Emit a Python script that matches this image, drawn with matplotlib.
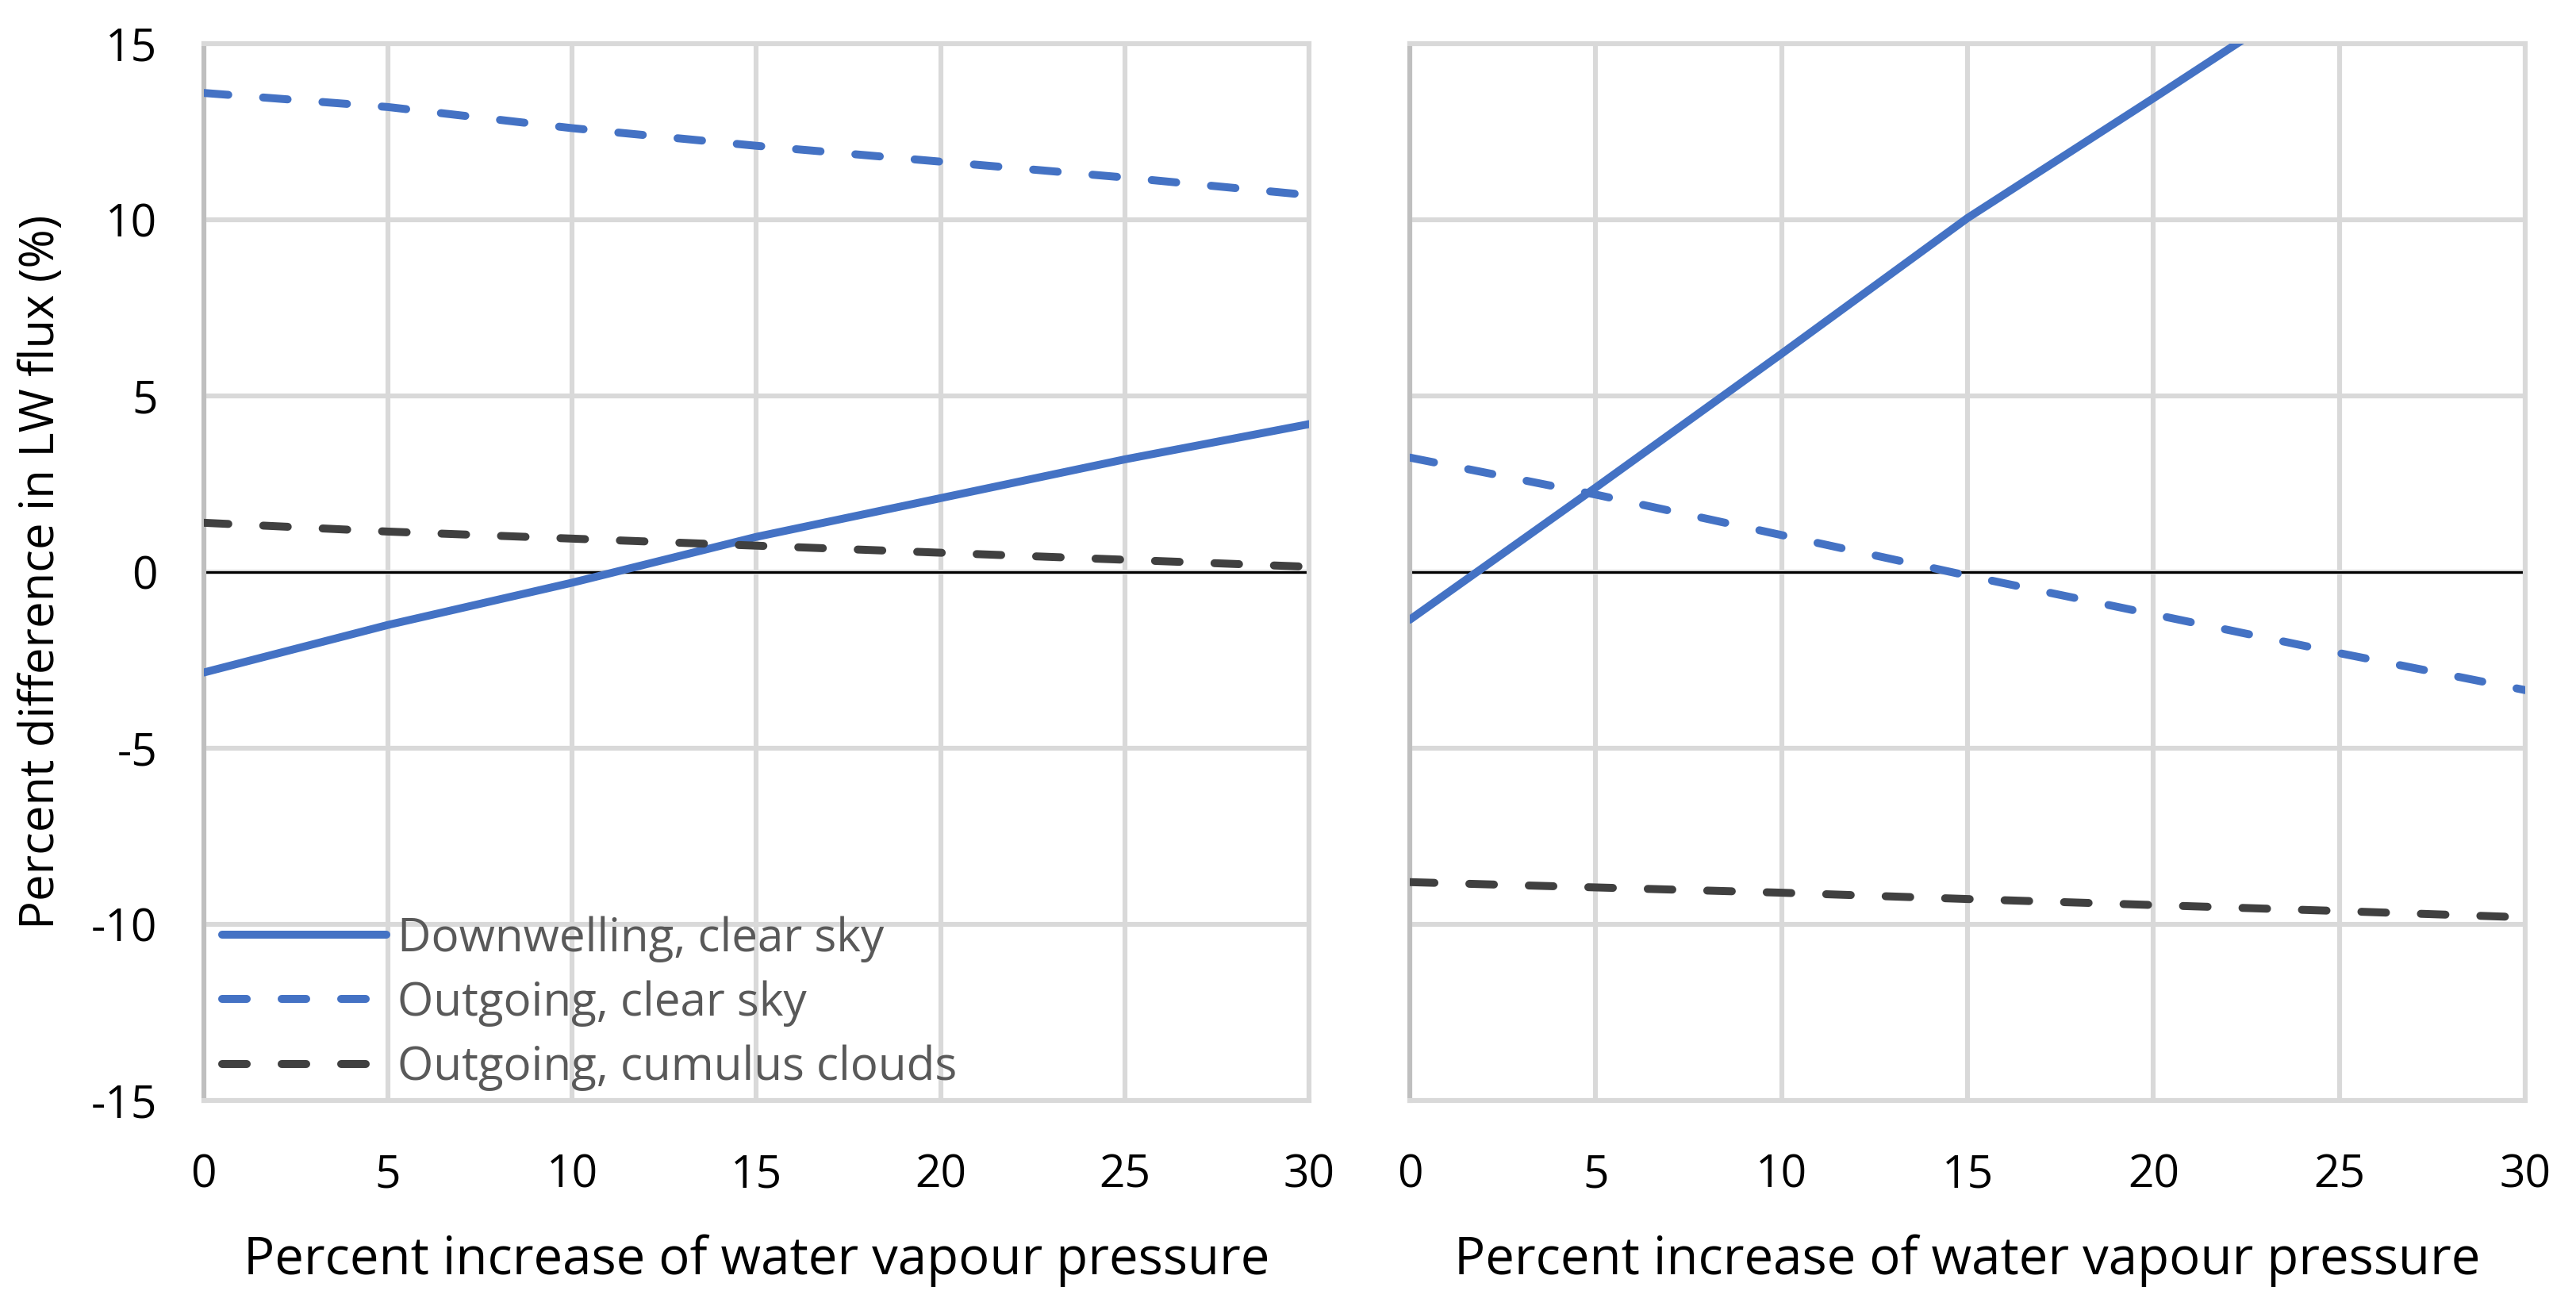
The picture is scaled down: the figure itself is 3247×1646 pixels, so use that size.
import matplotlib
matplotlib.use("Agg")
import matplotlib.pyplot as plt

# x: percent increase of water vapour pressure
x_vals = [0, 5, 10, 15, 20, 25, 30]

# left panel
left_down_clear = [-2.85, -1.5, -0.3, 1.0, 2.1, 3.2, 4.2]
left_out_clear = [13.6, 13.2, 12.6, 12.1, 11.65, 11.2, 10.7]
left_out_cumulus = [1.4, 1.15, 0.95, 0.75, 0.55, 0.35, 0.15]

# right panel
right_down_clear = [-1.35, 2.4, 6.2, 10.05, 13.45, 16.9, 20.3]
right_out_clear = [3.25, 2.2, 1.05, -0.1, -1.2, -2.3, -3.35]
right_out_cumulus = [-8.8, -8.95, -9.1, -9.28, -9.45, -9.62, -9.8]

labels = ["Downwelling, clear sky", "Outgoing, clear sky", "Outgoing, cumulus clouds"]
x_ticks = [0, 5, 10, 15, 20, 25, 30]
y_ticks = [-15, -10, -5, 0, 5, 10, 15]
xlabel = "Percent increase of water vapour pressure"
ylabel = "Percent difference in LW flux (%)"

BLUE = "#4472C4"
DARK = "#404040"
GRID = "#d9d9d9"
LW = 3.6
DASH = (3.1, 4.4)

plt.rcParams["font.family"] = ["Open Sans", "DejaVu Sans"]
plt.rcParams["axes.unicode_minus"] = False

DPI = 200
fig = plt.figure(figsize=(3247 / DPI, 1646 / DPI), dpi=DPI)
ax_l = fig.add_axes([0.0791, 0.1573, 0.4291, 0.8093])
ax_r = fig.add_axes([0.5473, 0.1573, 0.4330, 0.8093])


def style(ax, show_y):
    ax.set_xlim(0, 30)
    ax.set_ylim(-15, 15)
    ax.set_xticks(x_ticks)
    ax.set_yticks(y_ticks)
    ax.grid(True, color=GRID, lw=2.2, zorder=0)
    ax.set_axisbelow(True)
    for side in ("top", "right", "bottom"):
        ax.spines[side].set_color(GRID)
        ax.spines[side].set_linewidth(2.2)
    ax.spines["left"].set_color("#bfbfbf")
    ax.spines["left"].set_linewidth(2.2)
    ax.tick_params(axis="x", length=0, pad=24, labelsize=20.5, labelcolor="black")
    ax.tick_params(axis="y", length=0, pad=21, labelsize=20.5, labelcolor="black")
    if not show_y:
        ax.tick_params(axis="y", labelleft=False)
    ax.axhline(0, color="black", lw=1.1, zorder=1)
    ax.set_xlabel(xlabel, fontsize=23.5, labelpad=16)


def draw(ax, down, out, cum):
    l1, = ax.plot(x_vals, down, color=BLUE, lw=LW, solid_capstyle="round", zorder=3)
    l2, = ax.plot(x_vals, out, color=BLUE, lw=LW, dashes=DASH,
                  dash_capstyle="round", zorder=3)
    l3, = ax.plot(x_vals, cum, color=DARK, lw=LW, dashes=DASH,
                  dash_capstyle="round", zorder=3)
    return [l1, l2, l3]


style(ax_l, True)
style(ax_r, False)
handles = draw(ax_l, left_down_clear, left_out_clear, left_out_cumulus)
draw(ax_r, right_down_clear, right_out_clear, right_out_cumulus)

ax_l.set_ylabel(ylabel, fontsize=21.5, labelpad=12)

leg = ax_l.legend(handles, labels, loc="center left", bbox_to_anchor=(0.0165, 0.092),
                  frameon=False, fontsize=21, handlelength=3.55, handletextpad=0.24,
                  labelspacing=0.39, borderpad=0, borderaxespad=0)
for t in leg.get_texts():
    t.set_color("#595959")

fig.savefig("out.png", dpi=DPI, facecolor="white")
